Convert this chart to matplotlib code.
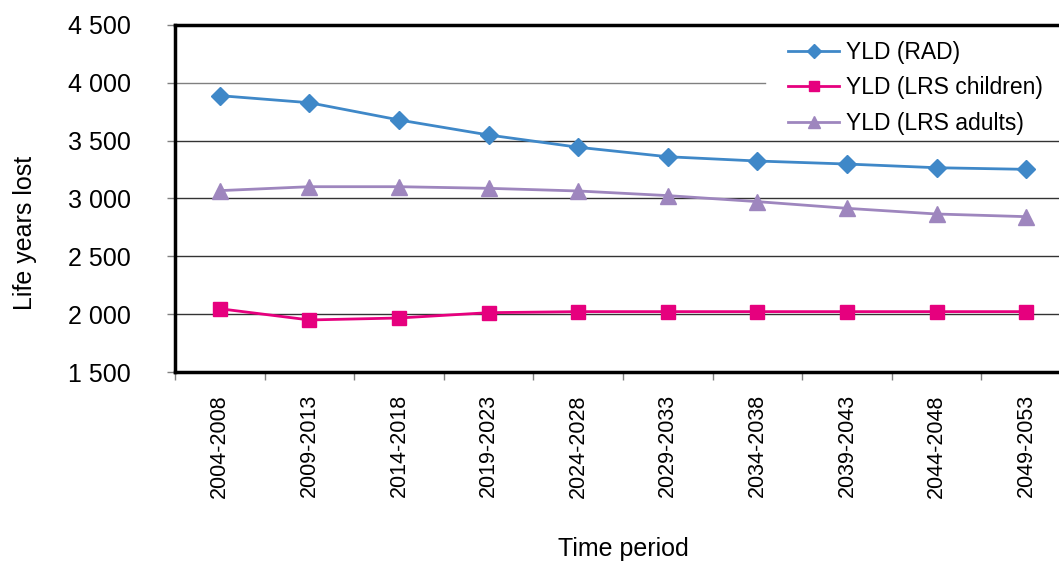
import matplotlib
matplotlib.use("Agg")
import matplotlib.pyplot as plt
from matplotlib.ticker import FuncFormatter, FixedLocator

plt.rcParams['font.family'] = ['Liberation Sans', 'DejaVu Sans']

# data
periods = ["2004-2008", "2009-2013", "2014-2018", "2019-2023", "2024-2028",
           "2029-2033", "2034-2038", "2039-2043", "2044-2048", "2049-2053"]
yld_rad = [3889, 3828, 3679, 3549, 3443, 3361, 3324, 3298, 3266, 3252]
yld_lrs_children = [2047, 1950, 1967, 2013, 2022, 2022, 2022, 2022, 2022, 2022]
yld_lrs_adults = [3068, 3102, 3102, 3088, 3065, 3025, 2973, 2915, 2866, 2843]
y_ticks = [1500, 2000, 2500, 3000, 3500, 4000, 4500]

fig = plt.figure(figsize=(10.59, 5.64), dpi=100)
ax = fig.add_axes([0.1653, 0.3404, 0.8460, 0.6153])

x = list(range(len(periods)))
ax.plot(x, yld_rad, color="#3F88C8", lw=2.0, marker="D", ms=9,
        label="YLD (RAD)", zorder=3)
ax.plot(x, yld_lrs_children, color="#E6007E", lw=2.0, marker="s", ms=10,
        label="YLD (LRS children)", zorder=3)
ax.plot(x, yld_lrs_adults, color="#9E86BE", lw=2.0, marker="^", ms=11,
        label="YLD (LRS adults)", zorder=3)

ax.set_xlim(-0.5, len(periods) - 0.5)
ax.set_ylim(1500, 4500)
ax.set_yticks(y_ticks)
ax.yaxis.set_major_formatter(FuncFormatter(lambda v, p: f"{int(v):,}".replace(",", " ")))

# category labels in the middle, tick marks on the boundaries
ax.set_xticks(x)
ax.set_xticklabels(periods, rotation=90, fontsize=15.5)
ax.tick_params(axis="x", which="major", length=0, pad=16)
ax.xaxis.set_minor_locator(FixedLocator([i - 0.5 for i in range(len(periods) + 1)]))
ax.tick_params(axis="x", which="minor", length=6, color="#808080", width=1)
ax.tick_params(axis="y", length=6, color="#808080", width=1, labelsize=18, pad=26)

ax.grid(axis="y", color="#333333", lw=1.0)
ax.set_axisbelow(True)
# the 4000 line is cut short by the legend box in the original
for gl, v in zip(ax.get_ygridlines(), y_ticks):
    if v == 4000:
        gl.set_visible(False)
ax.axhline(4000, xmin=0, xmax=0.658, color="#808080", lw=1.0, zorder=0.5)

for side in ["left", "top", "bottom"]:
    ax.spines[side].set_linewidth(2.5)
    ax.spines[side].set_color("black")
ax.spines["right"].set_visible(False)

ax.set_ylabel("Life years lost", fontsize=18)
ax.yaxis.set_label_coords(-0.154, 0.40)
ax.set_xlabel("Time period", fontsize=18, labelpad=28)

leg = ax.legend(loc="upper left", bbox_to_anchor=(0.677, 0.975), frameon=False,
                fontsize=16.5, handlelength=2.2, labelspacing=0.55, borderpad=0.1,
                handletextpad=0.3, markerscale=0.75, borderaxespad=0.2)

fig.savefig("out.png", dpi=100)
